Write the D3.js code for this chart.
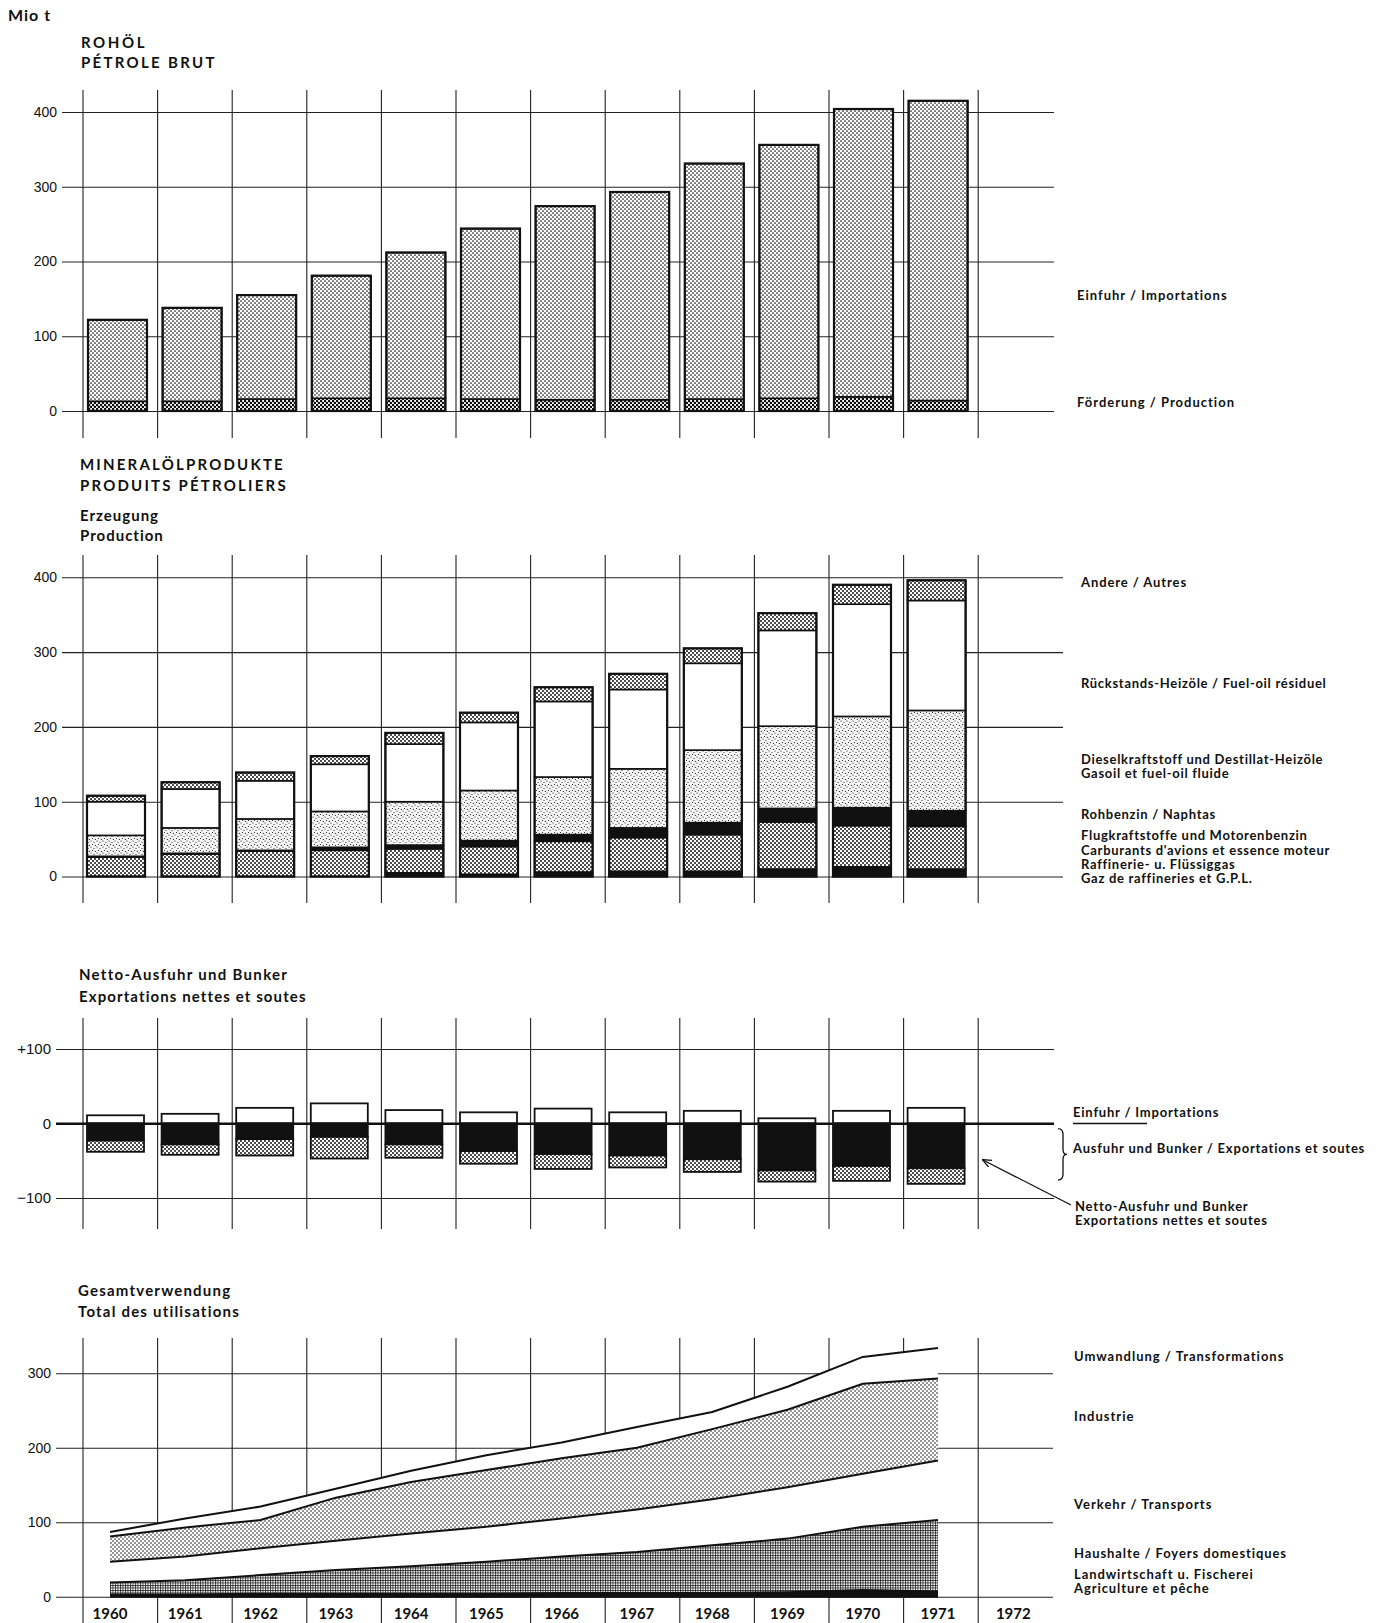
<!DOCTYPE html>
<html><head><meta charset="utf-8">
<script src="https://cdn.jsdelivr.net/npm/d3@7"></script>
<style>body{margin:0;background:#fff} svg{display:block}</style>
</head><body>
<script>
// ---------- DATA ----------
const years = [1960,1961,1962,1963,1964,1965,1966,1967,1968,1969,1970,1971];
const axisYears = [1960,1961,1962,1963,1964,1965,1966,1967,1968,1969,1970,1971,1972];

// Rohöl / Pétrole brut (Mio t)
const crudeProduction = [13,13,16,17,17,16,15,15,16,17,19,14];
const crudeImports    = [109,125,139,164,195,228,259,278,315,339,385,401];
const crudeTicks = [0,100,200,300,400];

// Mineralölprodukte – Erzeugung (stacked bottom → top)
const prodRefineryGas = [0,0,0,0,5,3,6,7,7,10,13,10];
const prodMotorSpirit = [26,30,34,35,32,37,41,45,49,63,55,57];
const prodNaphtha     = [1,1,1,4,5,8,9,13,16,18,24,21];
const prodGasoil      = [28,34,42,48,58,67,77,79,97,110,122,134];
const prodResidual    = [45,52,51,63,77,91,101,106,116,128,150,147];
const prodOther       = [8,9,11,11,15,13,19,21,20,23,26,27];
const prodTicks = [0,100,200,300,400];

// Netto-Ausfuhr und Bunker
const productImports          = [11,13,21,27,18,15,20,15,17,7,17,21];
const netExportsBunkers       = [23,28,21,18,28,37,41,43,48,63,57,60];
const exportsMatchingImports  = [15,14,22,29,18,17,20,16,17,15,20,21];
const tradeTicks = [-100,0,100];
const tradeTickLabels = ["\u2212100","0","+100"];

// Gesamtverwendung (stacked bottom → top)
const useAgriculture    = [3,3,4,4,4,4,5,5,5,6,9,7];
const useHouseholds     = [16,19,25,32,37,43,49,55,64,72,85,96];
const useTransport      = [28,32,36,39,44,47,51,57,62,69,71,80];
const useIndustry       = [34,39,38,58,69,76,81,83,94,104,121,110];
const useTransformation = [6,12,18,12,15,20,21,28,23,31,36,41];
const useTicks = [0,100,200,300];

// ---------- SETUP ----------
const W = 1381, H = 1623;
const svg = d3.select("body").append("svg").attr("width", W).attr("height", H)
  .style("font-family", "Lato, 'Open Sans', sans-serif");
const defs = svg.append("defs");

function dotPattern(id, size, r, pts, bg) {
  const p = defs.append("pattern").attr("id", id).attr("patternUnits", "userSpaceOnUse")
    .attr("width", size).attr("height", size);
  p.append("rect").attr("width", size).attr("height", size).attr("fill", bg || "#fff");
  pts.forEach(([cx, cy]) => p.append("circle").attr("cx", cx).attr("cy", cy).attr("r", r).attr("fill", "#111"));
}
dotPattern("pImp", 4, 0.85, [[1,1],[3,3]]);
dotPattern("pDark", 4, 1.3, [[1,1],[3,3]]);
dotPattern("pHatch", 4, 1.0, [[1,1],[3,3]]);
dotPattern("pInd", 4, 0.82, [[1,1],[3,3]]);
dotPattern("pLight", 6, 0.55, [[1,1],[4,2.5],[2.5,4.5],[5.3,5.4]], "#f6f6f6");
{
  const p = defs.append("pattern").attr("id", "pGrid").attr("patternUnits", "userSpaceOnUse")
    .attr("width", 2.5).attr("height", 2.5);
  p.append("rect").attr("width", 2.5).attr("height", 2.5).attr("fill", "#fff");
  p.append("path").attr("d", "M0 0.5H2.5M0.5 0V2.5").attr("stroke", "#111").attr("stroke-width", 0.75);
}
defs.append("marker").attr("id", "arrow").attr("viewBox", "0 0 10 10").attr("refX", 9).attr("refY", 5)
  .attr("markerWidth", 7).attr("markerHeight", 7).attr("orient", "auto")
  .append("path").attr("d", "M0 1 L10 5 L0 9").attr("fill", "none").attr("stroke", "#111").attr("stroke-width", 1.4);

const xCol = d3.scaleBand().domain(axisYears).range([83, 83 + 13 * 74.6]);
const xPt = d3.scaleLinear().domain([1960, 1972]).range([110, 1013.3]);

const gridColor = "#222";

function yAxis(g, y, ticks, labels, x0, x1, fontSize) {
  const ax = d3.axisLeft(y).tickValues(ticks).tickSize(-(x1 - x0)).tickPadding(5)
    .tickFormat((d, i) => labels ? labels[i] : d);
  const a = g.append("g").attr("transform", `translate(${x0},0)`).call(ax);
  a.select(".domain").remove();
  a.selectAll(".tick line").attr("stroke", gridColor).attr("stroke-width", 1.1);
  a.selectAll(".tick text").attr("font-family", "'Liberation Sans', Arial, sans-serif")
    .attr("font-size", fontSize || 14).attr("fill", "#111");
  return a;
}
function vGrid(g, top, bottom) {
  g.append("g").selectAll("line").data(axisYears).join("line")
    .attr("x1", d => xCol(d)).attr("x2", d => xCol(d))
    .attr("y1", top).attr("y2", bottom)
    .attr("stroke", gridColor).attr("stroke-width", 1.1);
}
function text(g, x, y, str, opts) {
  opts = opts || {};
  return g.append("text").attr("x", x).attr("y", y).text(str)
    .attr("font-size", opts.size || 13).attr("font-weight", opts.weight || 700)
    .attr("letter-spacing", opts.ls != null ? opts.ls : 0.8).attr("fill", "#111");
}
function stackedBars(g, y, layers, offset, width) {
  years.forEach((yr, i) => {
    let cum = 0;
    const x = xCol(yr) + offset;
    layers.forEach(L => {
      const v = L.values[i];
      if (v > 0) {
        g.append("rect").attr("x", x).attr("width", width)
          .attr("y", y(cum + v)).attr("height", y(cum) - y(cum + v))
          .attr("fill", L.fill).attr("stroke", "#111").attr("stroke-width", 1.6);
      }
      cum += v;
    });
    g.append("rect").attr("x", x).attr("width", width).attr("y", y(cum)).attr("height", y(0) - y(cum))
      .attr("fill", "none").attr("stroke", "#111").attr("stroke-width", 2.2);
  });
}

// ---------- HEADER ----------
text(svg, 8, 21, "Mio t", {size: 16, ls: 1});

// ---------- PANEL 1: ROHÖL ----------
{
  const g = svg.append("g");
  text(g, 81, 48, "ROHÖL", {size: 15, ls: 2.6});
  text(g, 81, 68, "PÉTROLE BRUT", {size: 15, ls: 2.3});
  const y = d3.scaleLinear().domain([0, 400]).range([411, 112]);
  vGrid(g, 90, 438);
  yAxis(g, y, crudeTicks, null, 62, 1054);
  stackedBars(g, y, [
    {values: crudeProduction, fill: "url(#pDark)"},
    {values: crudeImports, fill: "url(#pImp)"}
  ], 5, 59);
  text(g, 1077, 300, "Einfuhr / Importations", {ls: 1.0});
  text(g, 1077, 407, "Förderung / Production", {ls: 1.0});
}

// ---------- PANEL 2: MINERALÖLPRODUKTE ----------
{
  const g = svg.append("g");
  text(g, 80, 470, "MINERALÖLPRODUKTE", {size: 15, ls: 2.2});
  text(g, 80, 491, "PRODUITS PÉTROLIERS", {size: 15, ls: 2.2});
  text(g, 80, 521, "Erzeugung", {size: 15, ls: 1.0});
  text(g, 80, 541, "Production", {size: 15, ls: 1.0});
  const y = d3.scaleLinear().domain([0, 400]).range([876.5, 577.3]);
  vGrid(g, 555, 903);
  yAxis(g, y, prodTicks, null, 62, 1063);
  stackedBars(g, y, [
    {values: prodRefineryGas, fill: "#111"},
    {values: prodMotorSpirit, fill: "url(#pHatch)"},
    {values: prodNaphtha, fill: "#111"},
    {values: prodGasoil, fill: "url(#pLight)"},
    {values: prodResidual, fill: "#fff"},
    {values: prodOther, fill: "url(#pHatch)"}
  ], 4, 58);
  const lx = 1081;
  text(g, lx, 587, "Andere / Autres", {ls: 0.9});
  text(g, lx, 688, "Rückstands-Heizöle / Fuel-oil résiduel", {ls: 0.7});
  text(g, lx, 764, "Dieselkraftstoff und Destillat-Heizöle", {ls: 0.7});
  text(g, lx, 778, "Gasoil et fuel-oil fluide", {ls: 0.7});
  text(g, lx, 819, "Rohbenzin / Naphtas", {ls: 0.7});
  text(g, lx, 840, "Flugkraftstoffe und Motorenbenzin", {ls: 0.7});
  text(g, lx, 855, "Carburants d'avions et essence moteur", {ls: 0.7});
  text(g, lx, 869, "Raffinerie- u. Flüssiggas", {ls: 0.7});
  text(g, lx, 883, "Gaz de raffineries et G.P.L.", {ls: 0.7});
}

// ---------- PANEL 3: NETTO-AUSFUHR ----------
{
  const g = svg.append("g");
  text(g, 79, 980, "Netto-Ausfuhr und Bunker", {size: 15, ls: 1.3});
  text(g, 79, 1002, "Exportations nettes et soutes", {size: 15, ls: 1.1});
  const y = d3.scaleLinear().domain([-100, 100]).range([1198, 1049]);
  vGrid(g, 1018, 1229);
  const a = yAxis(g, y, tradeTicks, tradeTickLabels, 56, 1054, 15);
  a.selectAll(".tick line").filter(d => d === 0).attr("stroke-width", 2).attr("stroke", "#111");
  const off = 4, w = 57;
  years.forEach((yr, i) => {
    const x = xCol(yr) + off;
    g.append("rect").attr("x", x).attr("width", w).attr("y", y(productImports[i]))
      .attr("height", y(0) - y(productImports[i])).attr("fill", "#fff").attr("stroke", "#111").attr("stroke-width", 1.8);
    const n = netExportsBunkers[i], e = exportsMatchingImports[i];
    g.append("rect").attr("x", x).attr("width", w).attr("y", y(0))
      .attr("height", y(-n) - y(0)).attr("fill", "#111").attr("stroke", "#111").attr("stroke-width", 1.8);
    g.append("rect").attr("x", x).attr("width", w).attr("y", y(-n))
      .attr("height", y(-n - e) - y(-n)).attr("fill", "url(#pHatch)").attr("stroke", "#111").attr("stroke-width", 1.8);
  });
  g.append("line").attr("x1", 56).attr("x2", 1054).attr("y1", y(0)).attr("y2", y(0)).attr("stroke", "#111").attr("stroke-width", 2);
  g.append("line").attr("x1", 1073).attr("x2", 1147).attr("y1", y(0)).attr("y2", y(0)).attr("stroke", "#111").attr("stroke-width", 1.6);
  text(g, 1073, 1117, "Einfuhr / Importations", {ls: 0.8});
  // brace
  const b0 = y(-7), b1 = y(-76), bm = (b0 + b1) / 2;
  g.append("path").attr("d",
    `M1058,${b0} Q1063,${b0} 1063,${b0 + 6} L1063,${bm - 5} Q1063,${bm} 1067,${bm} Q1063,${bm} 1063,${bm + 5} L1063,${b1 - 6} Q1063,${b1} 1058,${b1}`)
    .attr("fill", "none").attr("stroke", "#111").attr("stroke-width", 1.3);
  text(g, 1073, 1153, "Ausfuhr und Bunker / Exportations et soutes", {ls: 0.8});
  g.append("line").attr("x1", 1071).attr("y1", 1205).attr("x2", 983).attr("y2", 1160)
    .attr("stroke", "#111").attr("stroke-width", 1.3).attr("marker-end", "url(#arrow)");
  text(g, 1075, 1211, "Netto-Ausfuhr und Bunker", {ls: 0.8});
  text(g, 1075, 1225, "Exportations nettes et soutes", {ls: 0.8});
}

// ---------- PANEL 4: GESAMTVERWENDUNG ----------
{
  const g = svg.append("g");
  text(g, 78, 1296, "Gesamtverwendung", {size: 15, ls: 1.2});
  text(g, 78, 1317, "Total des utilisations", {size: 15, ls: 1.2});
  const y = d3.scaleLinear().domain([0, 300]).range([1596.7, 1373.3]);
  vGrid(g, 1338, 1623);
  yAxis(g, y, useTicks, null, 56, 1053);
  const table = years.map((yr, i) => ({year: yr, agri: useAgriculture[i], hh: useHouseholds[i],
    tr: useTransport[i], ind: useIndustry[i], tf: useTransformation[i]}));
  const keys = ["agri", "hh", "tr", "ind", "tf"];
  const fills = {agri: "#111", hh: "url(#pGrid)", tr: "#fff", ind: "url(#pInd)", tf: "#fff"};
  const series = d3.stack().keys(keys)(table);
  const area = d3.area().x(d => xPt(d.data.year)).y0(d => y(d[0])).y1(d => y(d[1]));
  const line = d3.line().x(d => xPt(d.data.year)).y(d => y(d[1]));
  g.selectAll("path.area").data(series).join("path").attr("class", "area")
    .attr("d", area).attr("fill", s => fills[s.key]);
  g.selectAll("path.edge").data(series).join("path").attr("class", "edge")
    .attr("d", line).attr("fill", "none").attr("stroke", "#111").attr("stroke-width", 2);
  g.append("line").attr("x1", xPt(1960)).attr("x2", xPt(1971)).attr("y1", y(0)).attr("y2", y(0))
    .attr("stroke", "#111").attr("stroke-width", 2);
  g.selectAll("text.yr").data(axisYears).join("text").attr("class", "yr")
    .attr("x", d => xPt(d)).attr("y", 1619).attr("text-anchor", "middle")
    .attr("font-size", 15).attr("font-weight", 700).attr("fill", "#111").text(d => d);
  const lx = 1074;
  text(g, lx, 1361, "Umwandlung / Transformations", {ls: 1.0});
  text(g, lx, 1421, "Industrie", {ls: 1.0});
  text(g, lx, 1509, "Verkehr / Transports", {ls: 1.0});
  text(g, lx, 1558, "Haushalte / Foyers domestiques", {ls: 0.9});
  text(g, lx, 1579, "Landwirtschaft u. Fischerei", {ls: 0.9});
  text(g, lx, 1593, "Agriculture et pêche", {ls: 0.9});
}
</script>
</body></html>
